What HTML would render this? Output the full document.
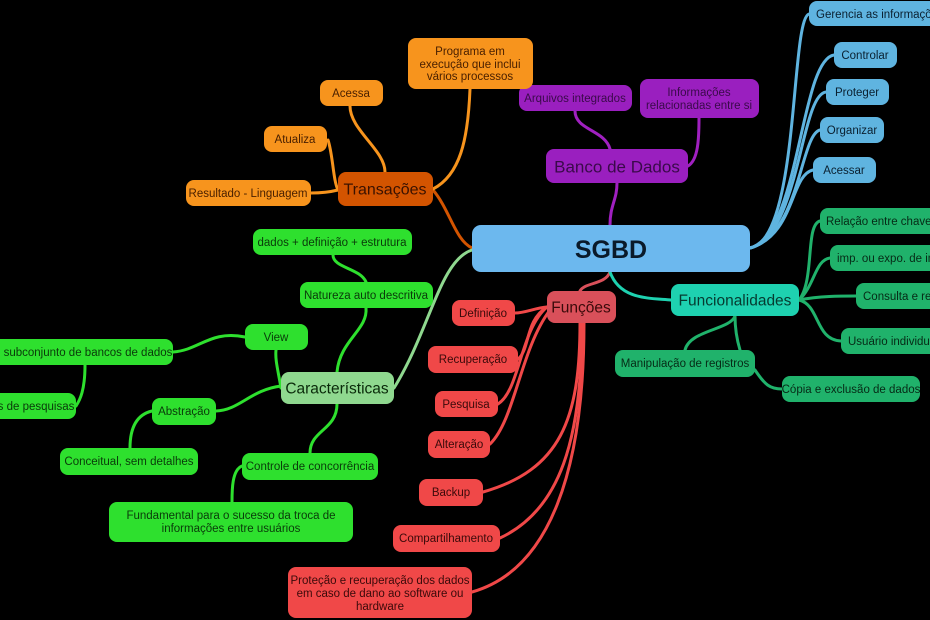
<!DOCTYPE html>
<html><head><meta charset="utf-8"><style>
html,body{margin:0;padding:0;background:#000;width:930px;height:620px;overflow:hidden}
svg text{font-family:"Liberation Sans","DejaVu Sans",sans-serif;text-anchor:middle;dominant-baseline:central;transform:translateY(1px)}
svg text[font-size="11"]{font-size:11.5px}
svg text[font-size="15"]{font-size:15.5px}
</style></head><body>
<svg width="930" height="620" viewBox="0 0 930 620" xmlns="http://www.w3.org/2000/svg">
<g fill="none" stroke-width="3" stroke-linecap="round">
<path d="M610 225 C610 205 617 200 617 183" stroke="#a020c0"/>
<path d="M610 149 C605 130 575 130 575 111" stroke="#a020c0"/>
<path d="M688 166 C698 160 699 140 699 118" stroke="#a020c0"/>
<path d="M472 248 C455 240 450 210 433 190" stroke="#d35400"/>
<path d="M433 189 C460 175 468 140 470 89" stroke="#f7941d"/>
<path d="M385 172 C385 150 350 130 350 106" stroke="#f7941d"/>
<path d="M338 190 C333 180 333 155 328 140" stroke="#f7941d"/>
<path d="M338 190 C330 192 320 193 311 193" stroke="#f7941d"/>
<path d="M472 250 C440 260 430 330 394 388" stroke="#8fd88f"/>
<path d="M337 372 C340 340 368 330 366 308" stroke="#2ee02e"/>
<path d="M366 282 C360 268 333 268 333 255" stroke="#2ee02e"/>
<path d="M281 388 C278 370 275 360 276 350" stroke="#2ee02e"/>
<path d="M245 337 C210 330 200 350 173 352" stroke="#2ee02e"/>
<path d="M85 365 C85 390 80 400 76 406" stroke="#2ee02e"/>
<path d="M281 386 C250 390 240 410 216 411" stroke="#2ee02e"/>
<path d="M152 411 C135 415 130 430 130 448" stroke="#2ee02e"/>
<path d="M337 404 C337 430 310 430 310 453" stroke="#2ee02e"/>
<path d="M242 466 C232 470 232 490 232 502" stroke="#2ee02e"/>
<path d="M610 272 C605 285 585 282 580 291" stroke="#d9505a"/>
<path d="M547 307 C535 308 525 313 515 313" stroke="#f04848"/>
<path d="M547 307 C525 320 530 350 518 359" stroke="#f04848"/>
<path d="M547 307 C520 330 520 390 498 404" stroke="#f04848"/>
<path d="M550 310 C520 350 515 420 490 444" stroke="#f04848"/>
<path d="M580 323 C580 420 560 470 483 492" stroke="#f04848"/>
<path d="M582 323 C582 440 560 510 500 538" stroke="#f04848"/>
<path d="M584 323 C584 470 550 570 472 592" stroke="#f04848"/>
<path d="M750 248 C800 240 790 20 809 14" stroke="#5fb4e0"/>
<path d="M750 248 C800 235 800 60 834 55" stroke="#5fb4e0"/>
<path d="M750 248 C800 235 800 95 826 92" stroke="#5fb4e0"/>
<path d="M750 248 C800 235 800 135 820 130" stroke="#5fb4e0"/>
<path d="M750 248 C795 235 790 175 813 170" stroke="#5fb4e0"/>
<path d="M610 272 C620 300 650 298 671 300" stroke="#1ed1b0"/>
<path d="M799 300 C815 280 805 225 820 221" stroke="#20b26b"/>
<path d="M799 300 C815 285 815 260 830 258" stroke="#20b26b"/>
<path d="M799 300 C820 296 840 296 856 296" stroke="#20b26b"/>
<path d="M799 300 C820 305 815 340 841 341" stroke="#20b26b"/>
<path d="M735 316 C730 330 690 330 685 350" stroke="#20b26b"/>
<path d="M735 316 C735 330 737 340 740 350" stroke="#20b26b"/>
<path d="M755 370 C765 385 770 389 782 389" stroke="#20b26b"/>
</g>
<g>
<rect x="472" y="225" width="278" height="47" rx="9" fill="#6cb8ee"/><text x="611" y="249" font-size="25" font-weight="bold" fill="#0a1a2a">SGBD</text>
<rect x="546" y="149" width="142" height="34" rx="8" fill="#9a1fbf"/><text x="617" y="166" font-size="17" fill="#3a0a4a">Banco de Dados</text>
<rect x="519" y="85" width="113" height="26" rx="8" fill="#9a1fbf"/><text x="575" y="98" font-size="11" fill="#3a0a4a">Arquivos integrados</text>
<rect x="640" y="79" width="119" height="39" rx="8" fill="#9a1fbf"/><text x="699" y="92" font-size="11" fill="#3a0a4a">Informações</text><text x="699" y="105" font-size="11" fill="#3a0a4a">relacionadas entre si</text>
<rect x="408" y="38" width="125" height="51" rx="8" fill="#f7941d"/><text x="470" y="51" font-size="11" fill="#4a2000">Programa em</text><text x="470" y="64" font-size="11" fill="#4a2000">execução que inclui</text><text x="470" y="76" font-size="11" fill="#4a2000">vários processos</text>
<rect x="320" y="80" width="63" height="26" rx="8" fill="#f7941d"/><text x="351" y="93" font-size="11" fill="#4a2000">Acessa</text>
<rect x="264" y="126" width="63" height="26" rx="8" fill="#f7941d"/><text x="295" y="139" font-size="11" fill="#4a2000">Atualiza</text>
<rect x="186" y="180" width="125" height="26" rx="8" fill="#f7941d"/><text x="248" y="193" font-size="11" fill="#4a2000">Resultado - Linguagem</text>
<rect x="338" y="172" width="95" height="34" rx="8" fill="#d35400"/><text x="385" y="189" font-size="16" fill="#3a1200">Transações</text>
<rect x="253" y="229" width="159" height="26" rx="8" fill="#2ee02e"/><text x="332" y="242" font-size="11" fill="#0a3a0a">dados + definição + estrutura</text>
<rect x="300" y="282" width="133" height="26" rx="8" fill="#2ee02e"/><text x="366" y="295" font-size="11" fill="#0a3a0a">Natureza auto descritiva</text>
<rect x="245" y="324" width="63" height="26" rx="8" fill="#2ee02e"/><text x="276" y="337" font-size="11" fill="#0a3a0a">View</text>
<rect x="-10" y="339" width="183" height="26" rx="8" fill="#2ee02e"/><text x="88" y="352" font-size="11" fill="#0a3a0a">subconjunto de bancos de dados</text>
<rect x="-20" y="393" width="96" height="26" rx="8" fill="#2ee02e"/><text x="36" y="406" font-size="11" fill="#0a3a0a">s de pesquisas</text>
<rect x="152" y="398" width="64" height="27" rx="8" fill="#2ee02e"/><text x="184" y="411" font-size="11" fill="#0a3a0a">Abstração</text>
<rect x="281" y="372" width="113" height="32" rx="8" fill="#8fd88f"/><text x="337" y="388" font-size="15" fill="#0a2a0a">Características</text>
<rect x="60" y="448" width="138" height="27" rx="8" fill="#2ee02e"/><text x="129" y="461" font-size="11" fill="#0a3a0a">Conceitual, sem detalhes</text>
<rect x="242" y="453" width="136" height="27" rx="8" fill="#2ee02e"/><text x="310" y="466" font-size="11" fill="#0a3a0a">Controle de concorrência</text>
<rect x="109" y="502" width="244" height="40" rx="8" fill="#2ee02e"/><text x="231" y="515" font-size="11" fill="#0a3a0a">Fundamental para o sucesso da troca de</text><text x="231" y="528" font-size="11" fill="#0a3a0a">informações entre usuários</text>
<rect x="547" y="291" width="69" height="32" rx="8" fill="#d9505a"/><text x="581" y="307" font-size="15" fill="#3a0a0a">Funções</text>
<rect x="452" y="300" width="63" height="26" rx="8" fill="#f04848"/><text x="483" y="313" font-size="11" fill="#3a0a0a">Definição</text>
<rect x="428" y="346" width="90" height="27" rx="8" fill="#f04848"/><text x="473" y="359" font-size="11" fill="#3a0a0a">Recuperação</text>
<rect x="435" y="391" width="63" height="26" rx="8" fill="#f04848"/><text x="466" y="404" font-size="11" fill="#3a0a0a">Pesquisa</text>
<rect x="428" y="431" width="62" height="27" rx="8" fill="#f04848"/><text x="459" y="444" font-size="11" fill="#3a0a0a">Alteração</text>
<rect x="419" y="479" width="64" height="27" rx="8" fill="#f04848"/><text x="451" y="492" font-size="11" fill="#3a0a0a">Backup</text>
<rect x="393" y="525" width="107" height="27" rx="8" fill="#f04848"/><text x="446" y="538" font-size="11" fill="#3a0a0a">Compartilhamento</text>
<rect x="288" y="567" width="184" height="51" rx="8" fill="#f04848"/><text x="380" y="580" font-size="11" fill="#3a0a0a">Proteção e recuperação dos dados</text><text x="380" y="593" font-size="11" fill="#3a0a0a">em caso de dano ao software ou</text><text x="380" y="606" font-size="11" fill="#3a0a0a">hardware</text>
<rect x="809" y="1" width="140" height="25" rx="8" fill="#5fb4e0"/><text x="816" y="14" font-size="11" fill="#0a2030" style="text-anchor:start">Gerencia as informações</text>
<rect x="834" y="42" width="63" height="26" rx="8" fill="#5fb4e0"/><text x="865" y="55" font-size="11" fill="#0a2030">Controlar</text>
<rect x="826" y="79" width="63" height="26" rx="8" fill="#5fb4e0"/><text x="857" y="92" font-size="11" fill="#0a2030">Proteger</text>
<rect x="820" y="117" width="64" height="26" rx="8" fill="#5fb4e0"/><text x="852" y="130" font-size="11" fill="#0a2030">Organizar</text>
<rect x="813" y="157" width="63" height="26" rx="8" fill="#5fb4e0"/><text x="844" y="170" font-size="11" fill="#0a2030">Acessar</text>
<rect x="820" y="208" width="130" height="26" rx="8" fill="#20b26b"/><text x="826" y="221" font-size="11" fill="#062a16" style="text-anchor:start">Relação entre chaves</text>
<rect x="830" y="245" width="120" height="26" rx="8" fill="#20b26b"/><text x="837" y="258" font-size="11" fill="#062a16" style="text-anchor:start">imp. ou expo. de in</text>
<rect x="856" y="283" width="94" height="26" rx="8" fill="#20b26b"/><text x="863" y="296" font-size="11" fill="#062a16" style="text-anchor:start">Consulta e rel</text>
<rect x="841" y="328" width="109" height="26" rx="8" fill="#20b26b"/><text x="848" y="341" font-size="11" fill="#062a16" style="text-anchor:start">Usuário individual</text>
<rect x="671" y="284" width="128" height="32" rx="8" fill="#1ed1b0"/><text x="735" y="300" font-size="15" fill="#063a30">Funcionalidades</text>
<rect x="615" y="350" width="140" height="27" rx="8" fill="#20b26b"/><text x="685" y="363" font-size="11" fill="#062a16">Manipulação de registros</text>
<rect x="782" y="376" width="138" height="26" rx="8" fill="#20b26b"/><text x="851" y="389" font-size="11" fill="#062a16">Cópia e exclusão de dados</text>
</g>
</svg>
</body></html>
